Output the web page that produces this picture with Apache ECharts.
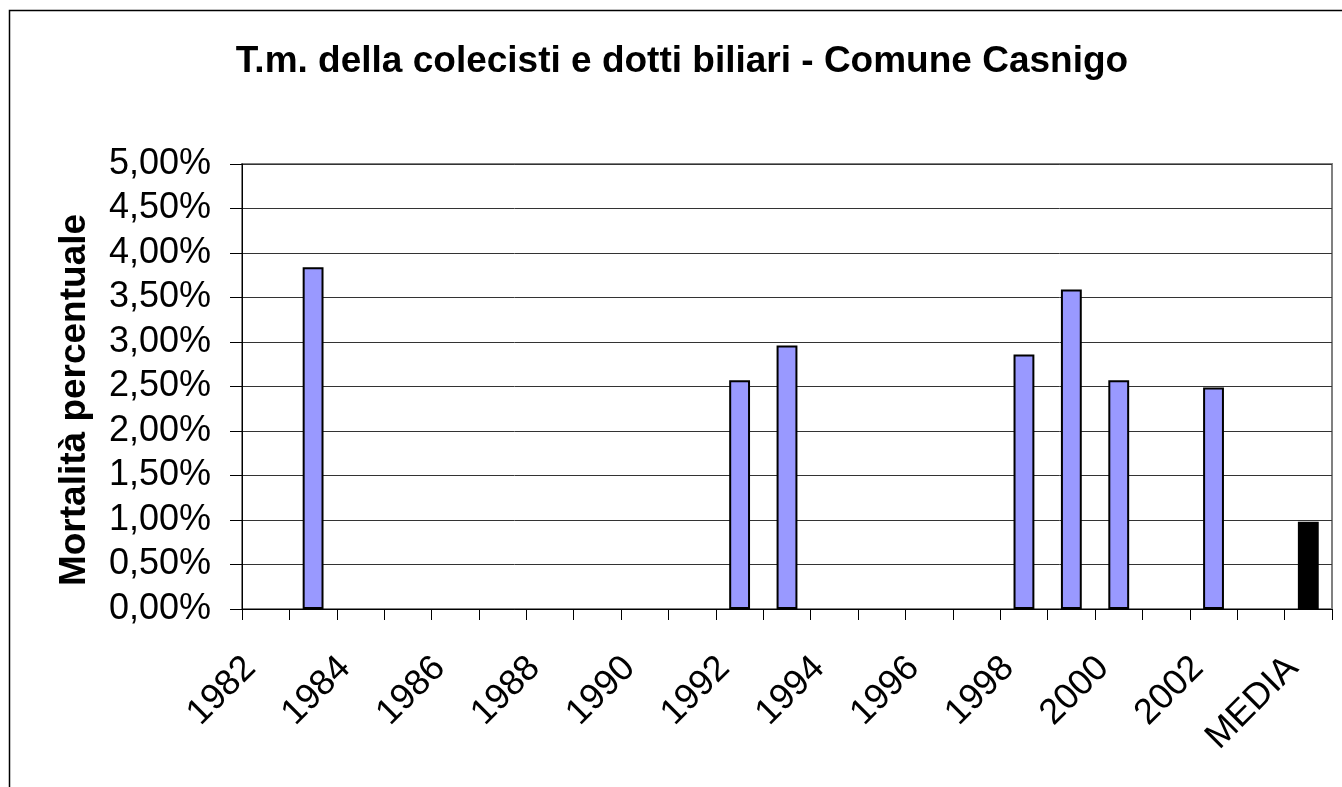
<!DOCTYPE html>
<html>
<head>
<meta charset="utf-8">
<script src="https://cdn.jsdelivr.net/npm/echarts@6/dist/echarts.min.js"></script>
<style>
  html, body { margin: 0; padding: 0; background: #fff; }
  #grafico { width: 1342px; height: 787px; }
</style>
</head>
<body>
<div id="grafico"></div>
<script>
const anni = ['1982', '1983', '1984', '1985', '1986', '1987', '1988', '1989', '1990', '1991',
  '1992', '1993', '1994', '1995', '1996', '1997', '1998', '1999', '2000', '2001',
  '2002', '2003', 'MEDIA'];
// mortalita' in punti percentuali
const mortalita = [null, 3.84, null, null, null, null, null, null, null, null,
  2.57, 2.96, null, null, null, null, 2.86, 3.59, 2.57, null,
  2.49, null, 0.98];
const titolo = 'T.m. della colecisti e dotti biliari - Comune Casnigo';
const nomeAsseY = 'Mortalità percentuale';

const font = '"Liberation Sans", Arial, sans-serif';

const formattaPerc = v => v.toFixed(2).replace('.', ',') + '%';

const initGrafico = () => {
    const myChart = echarts.init(document.getElementById('grafico'), null, { renderer: 'canvas' });
    myChart.setOption({
        animation: false,
        backgroundColor: '#fff',
        title: {
            text: titolo,
            left: 677,
            top: 38,
            textAlign: 'center',
            textStyle: { fontFamily: font, fontSize: 37, fontWeight: 'bold', color: '#000' }
        },
        graphic: [
            {
                type: 'rect',
                shape: { x: 9.5, y: 10.5, width: 2000, height: 2000 },
                style: { fill: 'none', stroke: '#000', lineWidth: 1.5 },
                silent: true
            },
            {
                type: 'text',
                x: 75,
                y: 400,
                rotation: Math.PI / 2,
                style: {
                    text: nomeAsseY,
                    font: 'bold 37px ' + font,
                    fill: '#000',
                    textAlign: 'center',
                    textVerticalAlign: 'middle'
                }
            }
        ],
        grid: {
            left: 242, top: 164, width: 1090, height: 445,
            show: true, borderColor: '#808080', borderWidth: 2, backgroundColor: '#fff'
        },
        xAxis: {
            type: 'category',
            data: anni,
            axisLine: { lineStyle: { color: '#000', width: 1 } },
            axisTick: { show: true, interval: 0, length: 11, lineStyle: { color: '#000' } },
            axisLabel: {
                interval: 1,
                rotate: 45,
                margin: 38,
                padding: [0, 22, 0, 0],
                fontFamily: font,
                fontSize: 36,
                color: '#000'
            }
        },
        yAxis: {
            type: 'value',
            min: 0,
            max: 5,
            interval: 0.5,
            axisLine: { show: true, lineStyle: { color: '#000', width: 1 } },
            axisTick: { show: true, length: 12, lineStyle: { color: '#000' } },
            axisLabel: {
                margin: 31,
                formatter: formattaPerc,
                fontFamily: font,
                fontSize: 36,
                color: '#000'
            },
            splitLine: { show: true, lineStyle: { color: '#333', width: 1 } }
        },
        series: [{
            type: 'bar',
            data: mortalita,
            barWidth: '44%',
            itemStyle: {
                color: p => (p.name === 'MEDIA' ? '#000' : '#9999FF'),
                borderColor: '#000',
                borderWidth: 2
            }
        }]
    });
};

window.addEventListener('load', () => {
    initGrafico();
});
</script>
</body>
</html>
